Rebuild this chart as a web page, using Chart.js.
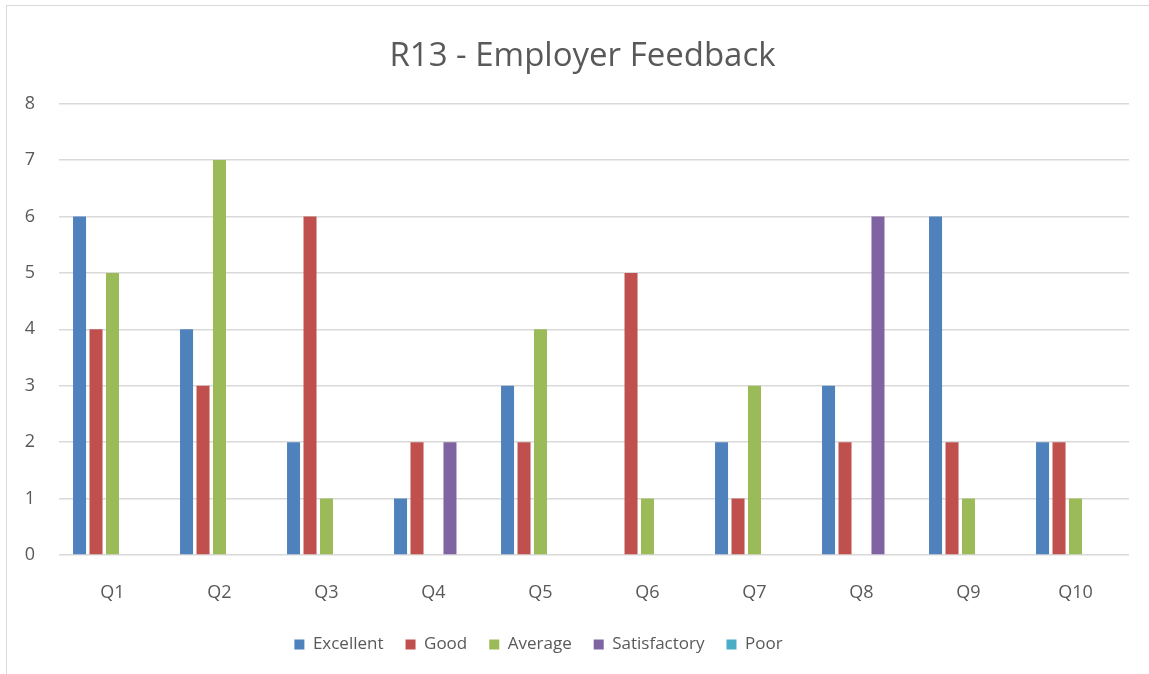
<!DOCTYPE html>
<html>
<head>
<meta charset="utf-8">
<script src="https://cdn.jsdelivr.net/npm/chart.js@4/dist/chart.umd.min.js"></script>
<style>
  html, body { margin: 0; padding: 0; background: #fff; }
  #wrap { position: relative; width: 1149px; height: 674px; }
  #frame { position: absolute; left: 6px; top: 5px; width: 1160px; height: 700px; border: 1px solid #d9d9d9; box-sizing: border-box; }
  canvas { position: absolute; left: 0; top: 0; }
</style>
</head>
<body>
<div id="wrap">
  <div id="frame"></div>
  <canvas id="myChart" width="1149" height="674"></canvas>
</div>
<script>
const questions = ['Q1', 'Q2', 'Q3', 'Q4', 'Q5', 'Q6', 'Q7', 'Q8', 'Q9', 'Q10'];
const excellent    = [6, 4, 2, 1, 3, 0, 2, 3, 6, 2];
const good         = [4, 3, 6, 2, 2, 5, 1, 2, 2, 2];
const average      = [5, 7, 1, 0, 4, 1, 3, 0, 1, 1];
const satisfactory = [0, 0, 0, 2, 0, 0, 0, 6, 0, 0];
const poor         = [0, 0, 0, 0, 0, 0, 0, 0, 0, 0];

const font = "'Open Sans', sans-serif";
const textCol = '#595959';

function series(label, values, color) {
  return {
    label: label,
    data: values,
    backgroundColor: color,
    borderWidth: 0,
    categoryPercentage: 0.77,
    barPercentage: 0.79
  };
}

const data = {
  labels: questions,
  datasets: [
    series('Excellent', excellent, '#4F81BD'),
    series('Good', good, '#C0504D'),
    series('Average', average, '#9BBB59'),
    series('Satisfactory', satisfactory, '#8064A2'),
    series('Poor', poor, '#4BACC6')
  ]
};

// nudge title right and legend left, like the excel layout
const nudge = {
  id: 'nudge',
  afterLayout(chart) {
    chart.titleBlock.left += 18;
    chart.titleBlock.right += 18;
    chart.legend.left -= 26;
    chart.legend.right -= 26;
  }
};

const config = {
  type: 'bar',
  data: data,
  plugins: [nudge],
  options: {
    responsive: false,
    animation: false,
    layout: { padding: { left: 0, right: 20, top: 37, bottom: 11 } },
    plugins: {
      title: {
        display: true,
        text: 'R13 - Employer Feedback',
        color: textCol,
        font: { family: font, size: 33, weight: 'normal' },
        padding: { top: 0, bottom: 27 }
      },
      legend: {
        position: 'bottom',
        labels: {
          color: textCol,
          font: { family: font, size: 17 },
          boxWidth: 10,
          boxHeight: 10,
          padding: 22
        }
      },
      tooltip: { enabled: false }
    },
    scales: {
      x: {
        afterFit: function (s) { s.height = 59; },
        grid: { display: false },
        border: { display: false },
        ticks: { color: textCol, font: { family: font, size: 18 }, padding: 19 }
      },
      y: {
        min: 0,
        max: 8,
        afterFit: function (s) { s.width = 59; },
        grid: { color: '#d9d9d9', lineWidth: 1.5, drawTicks: false },
        border: { display: false },
        ticks: { stepSize: 1, color: textCol, font: { family: font, size: 18 }, padding: 24 }
      }
    }
  }
};

const myChart = new Chart(document.getElementById('myChart'), config);
</script>
</body>
</html>
